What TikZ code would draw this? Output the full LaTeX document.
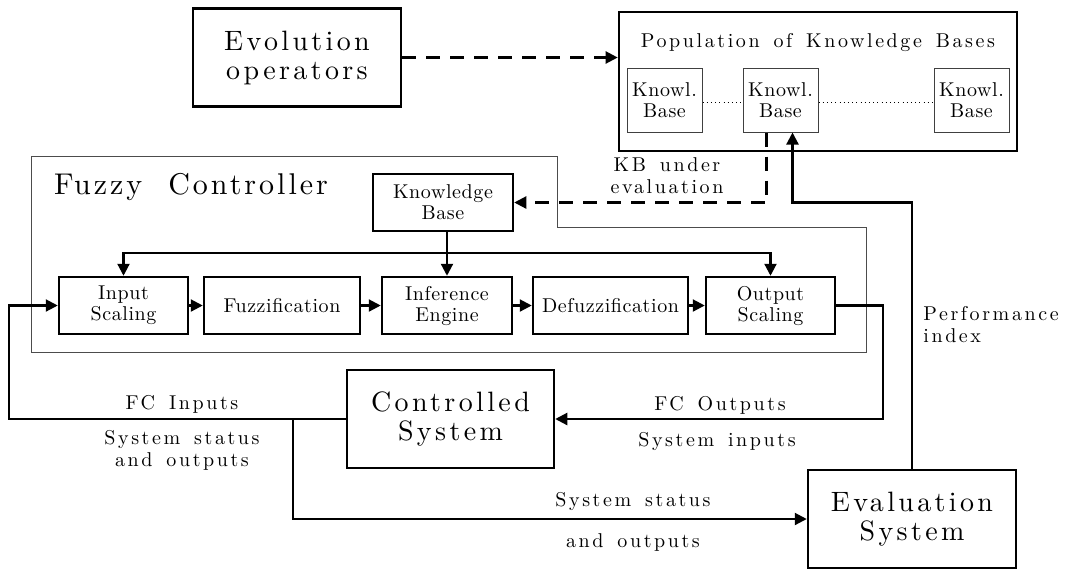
\documentclass[tikz,border=0pt]{standalone}
\usepackage{fontspec}
\setmainfont{lmroman10-regular.otf}
\newfontfamily\bigfam{lmroman10-regular.otf}[LetterSpace=12]
\newfontfamily\hugefam{lmroman10-regular.otf}[LetterSpace=10,WordSpace=2]
\newfontfamily\midfam{lmroman10-regular.otf}[LetterSpace=13,WordSpace=1.5]
\newfontfamily\boxfam{lmroman10-regular.otf}[LetterSpace=3]
\usepackage{tikz}
\usetikzlibrary{arrows.meta, positioning}

\newcommand{\bigtxt}{\bigfam\fontsize{14}{14.5}\selectfont}
\newcommand{\hugetxt}{\hugefam\fontsize{15}{15.5}\selectfont}
\newcommand{\midtxt}{\midfam\fontsize{10}{11}\selectfont}
\newcommand{\boxtxt}{\boxfam\fontsize{10}{10.5}\selectfont}

\tikzset{
  blk/.style={draw, line width=1.25pt, minimum height=28.5pt, inner sep=1pt, align=center, font=\boxtxt},
  bigblk/.style={draw, line width=1.25pt, minimum width=104pt, minimum height=49pt, align=center, font=\bigtxt},
  kbbox/.style={draw=black!75, line width=0.5pt, minimum width=37.5pt, minimum height=32pt, inner sep=1pt, align=center, font=\boxtxt},
  lbl/.style={align=center, inner sep=0pt, font=\midtxt},
  flow/.style={line width=1.1pt, -{Triangle[length=6pt,width=6pt]}},
  gaflow/.style={flow, dash pattern=on 7pt off 5pt},
  dots/.style={line width=0.4pt, dash pattern=on 0.5pt off 1.6pt},
  fcframe/.style={draw=black!70, line width=0.5pt}
}

\begin{document}
\begin{tikzpicture}[x=0.5pt, y=-0.5pt]
  \useasboundingbox (0,0) rectangle (1067,570);

  %Define nodes
  \node[bigblk] (evo) at (297,57.5) {Evolution\\operators};
  \node[draw, line width=1.3pt, minimum width=199pt, minimum height=69.5pt] (pop) at (818,81.5) {};
  \node[lbl] (poptitle) at (818,42) {Population of Knowledge Bases};
  \node[kbbox] (kb1) at (664.5,100) {Knowl.\\Base};
  \node[kbbox, right=20pt of kb1] (kb2) {Knowl.\\Base};
  \node[kbbox, right=57.5pt of kb2] (kb3) {Knowl.\\Base};

  \node[blk, minimum width=70pt] (kb) at (443,202.5) {Knowledge\\Base};
  \node[blk, minimum width=64.5pt] (input) at (123.5,305.5) {Input\\Scaling};
  \node[blk, minimum width=78pt, right=6.75pt of input] (fuzz) {Fuzzification};
  \node[blk, minimum width=65pt, right=9.75pt of fuzz] (inf) {Inference\\Engine};
  \node[blk, minimum width=77.5pt, right=9.25pt of inf] (defuzz) {Defuzzification};
  \node[blk, minimum width=64.5pt, right=7.75pt of defuzz] (output) {Output\\Scaling};

  \node[bigblk, minimum width=103.5pt] (ctrl) at (450.5,419) {Controlled\\System};
  \node[bigblk] (eval) at (912,519) {Evaluation\\System};

  % Fuzzy controller frame
  \draw[fcframe] (31,156) -- (557,156) -- (557,227) -- (866,227) -- (866,352) -- (31,352) -- cycle;
  \node[font=\hugetxt, inner sep=0pt] (fctitle) at (191,187) {Fuzzy Controller};

  % Labels
  \node[lbl] (kbeval) at (667,176) {KB under\\evaluation};
  \node[lbl, anchor=west, align=left] (perf) at (923,325) {Performance\\index};
  \node[lbl] (fcin) at (182,404) {FC Inputs};
  \node[lbl] (sysout) at (182,450) {System status\\and outputs};
  \node[lbl] (fcout) at (720,405) {FC Outputs};
  \node[lbl] (sysin) at (717,441) {System inputs};
  \node[lbl] (evstat) at (633,501.5) {System status};
  \node[lbl] (evout) at (633,542) {and outputs};

  % Connect the nodes
  \draw[gaflow] (evo.east) -- (evo.east -| pop.west);
  \draw[dots] ([yshift=-1pt]kb1.east) -- ([yshift=-1pt]kb2.west);
  \draw[dots] ([yshift=-1pt]kb2.east) -- ([yshift=-1pt]kb3.west);

  \coordinate (kbout) at ([xshift=-7pt]kb2.south);
  \coordinate (perfin) at ([xshift=6pt]kb2.south);
  \draw[gaflow] (kbout) |- (kb.east);
  \draw[flow] (eval.north) |- (perfin |- kb.east) -- (perfin);

  \coordinate (kbfoot) at (inf.north |- kb.south);
  \draw[flow] (kbfoot) -- (inf.north);
  \path (kbfoot) -- (inf.north) coordinate[pos=0.48] (kbjoin);
  \draw[flow] (kbjoin) -| (input.north);
  \draw[flow] (kbjoin) -| (output.north);

  \draw[flow] (input) -- (fuzz);
  \draw[flow] (fuzz) -- (inf);
  \draw[flow] (inf) -- (defuzz);
  \draw[flow] (defuzz) -- (output);

  \draw[flow] (output.east) -- ++(23.5pt,0) |- (ctrl.east);
  \draw[flow] (ctrl.west) -- ++(-168.5pt,0) |- (input.west);
  \coordinate (tap) at ([xshift=-26.5pt]ctrl.west);
  \draw[flow] (tap) |- (eval.west);

\end{tikzpicture}
\end{document}
